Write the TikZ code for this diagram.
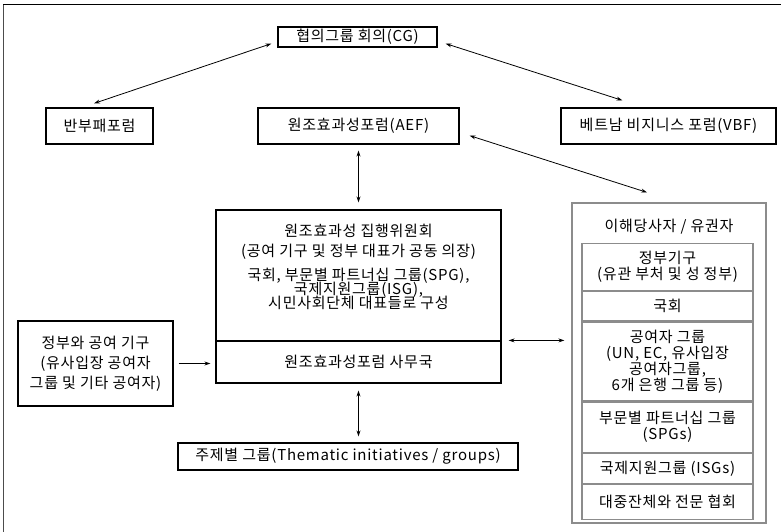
\documentclass[tikz,border=0pt]{standalone}
\usepackage{fontspec}
\setmainfont[LetterSpace=5]{Noto Sans CJK KR}
\usetikzlibrary{arrows.meta,calc}
\newcommand{\tightlines}{\fontsize{15}{14}\selectfont\setlength{\lineskiplimit}{-20pt}}
\begin{document}
\begin{tikzpicture}[x=1pt,y=-1pt,
  txt/.style={font=\fontsize{15}{16}\selectfont,align=center,inner sep=0pt},
  box/.style={txt,draw=black,line width=1.2pt},
  sbox/.style={txt,draw=black!45,line width=1.2pt},
  row/.style={sbox,minimum width=171pt,anchor=north},
  arr/.style={line width=0.8pt,{Stealth[length=6pt,width=4pt]}-{Stealth[length=6pt,width=4pt]}},
  onearr/.style={line width=0.8pt,-{Stealth[length=6pt,width=4pt]}}
]
\useasboundingbox (0,0) rectangle (781,532);
% frame (open on the right and at the bottom)
\draw[line width=1.4pt,black!70] (3.5,532) -- (3.5,4.5);
\draw[line width=1.4pt] (3,4.5) -- (781,4.5);

% top row
\node[box,minimum width=159pt,minimum height=20pt] (cg) at (357.5,37) {협의그룹 회의(CG)};
\node[box,minimum width=107pt,minimum height=36pt] (anti) at (99.5,126) {반부패포럼};
\node[box,minimum width=201pt,minimum height=36pt] (aef) at (358.5,126) {원조효과성포럼(AEF)};
\node[box,minimum width=215pt,minimum height=36pt] (vbf) at (668.5,126) {베트남 비지니스 포럼(VBF)};

% executive committee and secretariat
\node[box,minimum width=285pt,minimum height=131pt] (exec) at (358.5,275.5) {};
\node[txt] (execA) at (358.5,231) {원조효과성 집행위원회};
\node[txt] (execB) at (358.5,252) {(공여 기구 및 정부 대표가 공동 의장)};
\node[txt,font=\tightlines] (execC) at (358.5,289)
  {국회, 부문별 파트너십 그룹(SPG),\\국제지원그룹(ISG),\\시민사회단체 대표들로 구성};
\node[box,minimum width=285pt,minimum height=42pt] (sec) at (358.5,362) {원조효과성포럼 사무국};

% left and bottom boxes
\node[box,minimum width=155pt,minimum height=85pt,font=\fontsize{15}{20}\selectfont] (gov) at (95.5,363.5)
  {정부와 공여 기구\\(유사입장 공여자\\그룹 및 기타 공여자)};
\node[box,minimum width=340pt,minimum height=27pt] (them) at (348,456.5) {주제별 그룹(Thematic initiatives / groups)};

% stakeholders
\node[sbox,minimum width=194pt,minimum height=320pt] (stake) at (669,363) {};
\node[txt] (staketitle) at (669,227) {이해당사자 / 유권자};
\node[row,minimum height=47pt] (r1) at (667.5,243) {정부기구\\(유관 부처 및 성 정부)};
\node[row,minimum height=29pt] (r2) at (r1.south) {국회};
\node[row,minimum height=79pt] (r3) at (r2.south) {공여자 그룹\\(UN, EC, 유사입장\\공여자그룹,\\6개 은행 그룹 등)};
\node[row,minimum height=50pt] (r4) at (r3.south) {부문별 파트너십 그룹\\(SPGs)};
\node[row,minimum height=30pt] (r5) at (r4.south) {국제지원그룹 (ISGs)};
\node[row,minimum height=35pt] (r6) at (r5.south) {대중잔체와 전문 협회};

% connectors
\draw[arr] ([shift={(-6,-4)}]cg.south west) -- ([shift={(-5.5,-4)}]anti.north);
\draw[arr] ([shift={(8,-4)}]cg.south east) -- ([shift={(62,-7)}]vbf.north west);
\draw[arr] ([shift={(10,-9)}]aef.south east) -- ([shift={(-22,-10)}]stake.north);
\draw[arr] ([yshift=-6pt]aef.south) -- ([yshift=7pt]exec.north);
\draw[onearr] ([xshift=5pt]gov.east) -- ([xshift=-5pt]sec.west |- gov.east);
\draw[arr] ([xshift=7pt]sec.north east) -- ($(stake.west |- sec.north east)+(-7,0)$);
\draw[arr] ([yshift=-7pt]sec.south) -- ($(them.north -| sec.south)+(0,-6)$);
\end{tikzpicture}
\end{document}
